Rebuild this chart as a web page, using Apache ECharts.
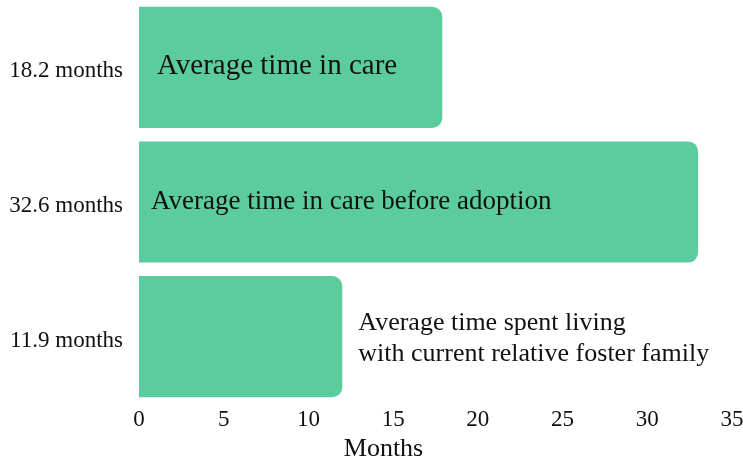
<!DOCTYPE html>
<html><head><meta charset="utf-8">
<script src="https://cdn.jsdelivr.net/npm/echarts@6/dist/echarts.min.js"></script>
<style>html,body{margin:0;padding:0;background:#fff}#c{width:743px;height:456px}</style>
</head><body><div id="c"></div>
<script>
const categories = ['18.2 months', '32.6 months', '11.9 months'];
const values = [17.9, 33.0, 12.0];
const barLabels = ['Average time in care', 'Average time in care before adoption', 'Average time spent living\nwith current relative foster family'];
const xTicks = [0, 5, 10, 15, 20, 25, 30, 35];

const FONT = '"Liberation Serif", serif';
const chart = echarts.init(document.getElementById('c'), null, {renderer: 'canvas'});
const labelCfg = [
  {position: 'insideLeft', distance: 18, size: 29, offset: [0, -1]},
  {position: 'insideLeft', distance: 12, size: 27, offset: [0, 0]},
  {position: 'right', distance: 16, size: 26, offset: [0, 2]}
];
chart.setOption({
  animation: false,
  grid: {left: 139, right: 11, top: 0, bottom: 52, containLabel: false, outerBoundsMode: 'none'},
  xAxis: {
    type: 'value', min: xTicks[0], max: xTicks[xTicks.length - 1], interval: 5,
    name: 'Months', nameLocation: 'middle', nameGap: 27,
    nameTextStyle: {fontFamily: FONT, fontSize: 26, color: '#111', padding: [0, 104, 0, 0]},
    axisLine: {show: false}, axisTick: {show: false}, splitLine: {show: false},
    axisLabel: {fontFamily: FONT, fontSize: 23, color: '#111', margin: 4}
  },
  yAxis: {
    type: 'category', data: categories, inverse: true,
    axisLine: {show: false}, axisTick: {show: false},
    axisLabel: {
      margin: 16, formatter: v => '{a|' + v + '}',
      rich: {a: {fontFamily: FONT, fontSize: 23, color: '#111', padding: [8, 0, 0, 0]}}
    }
  },
  series: [{
    type: 'bar', barCategoryGap: '10%',
    data: values.map((v, i) => ({
      value: v,
      label: {show: true, formatter: barLabels[i], position: labelCfg[i].position, distance: labelCfg[i].distance,
        offset: labelCfg[i].offset,
        fontFamily: FONT, fontSize: labelCfg[i].size, lineHeight: 31, color: '#111'}
    })),
    itemStyle: {color: '#5BCC9E', borderRadius: [0, 10, 10, 0]}
  }]
});
</script></body></html>
